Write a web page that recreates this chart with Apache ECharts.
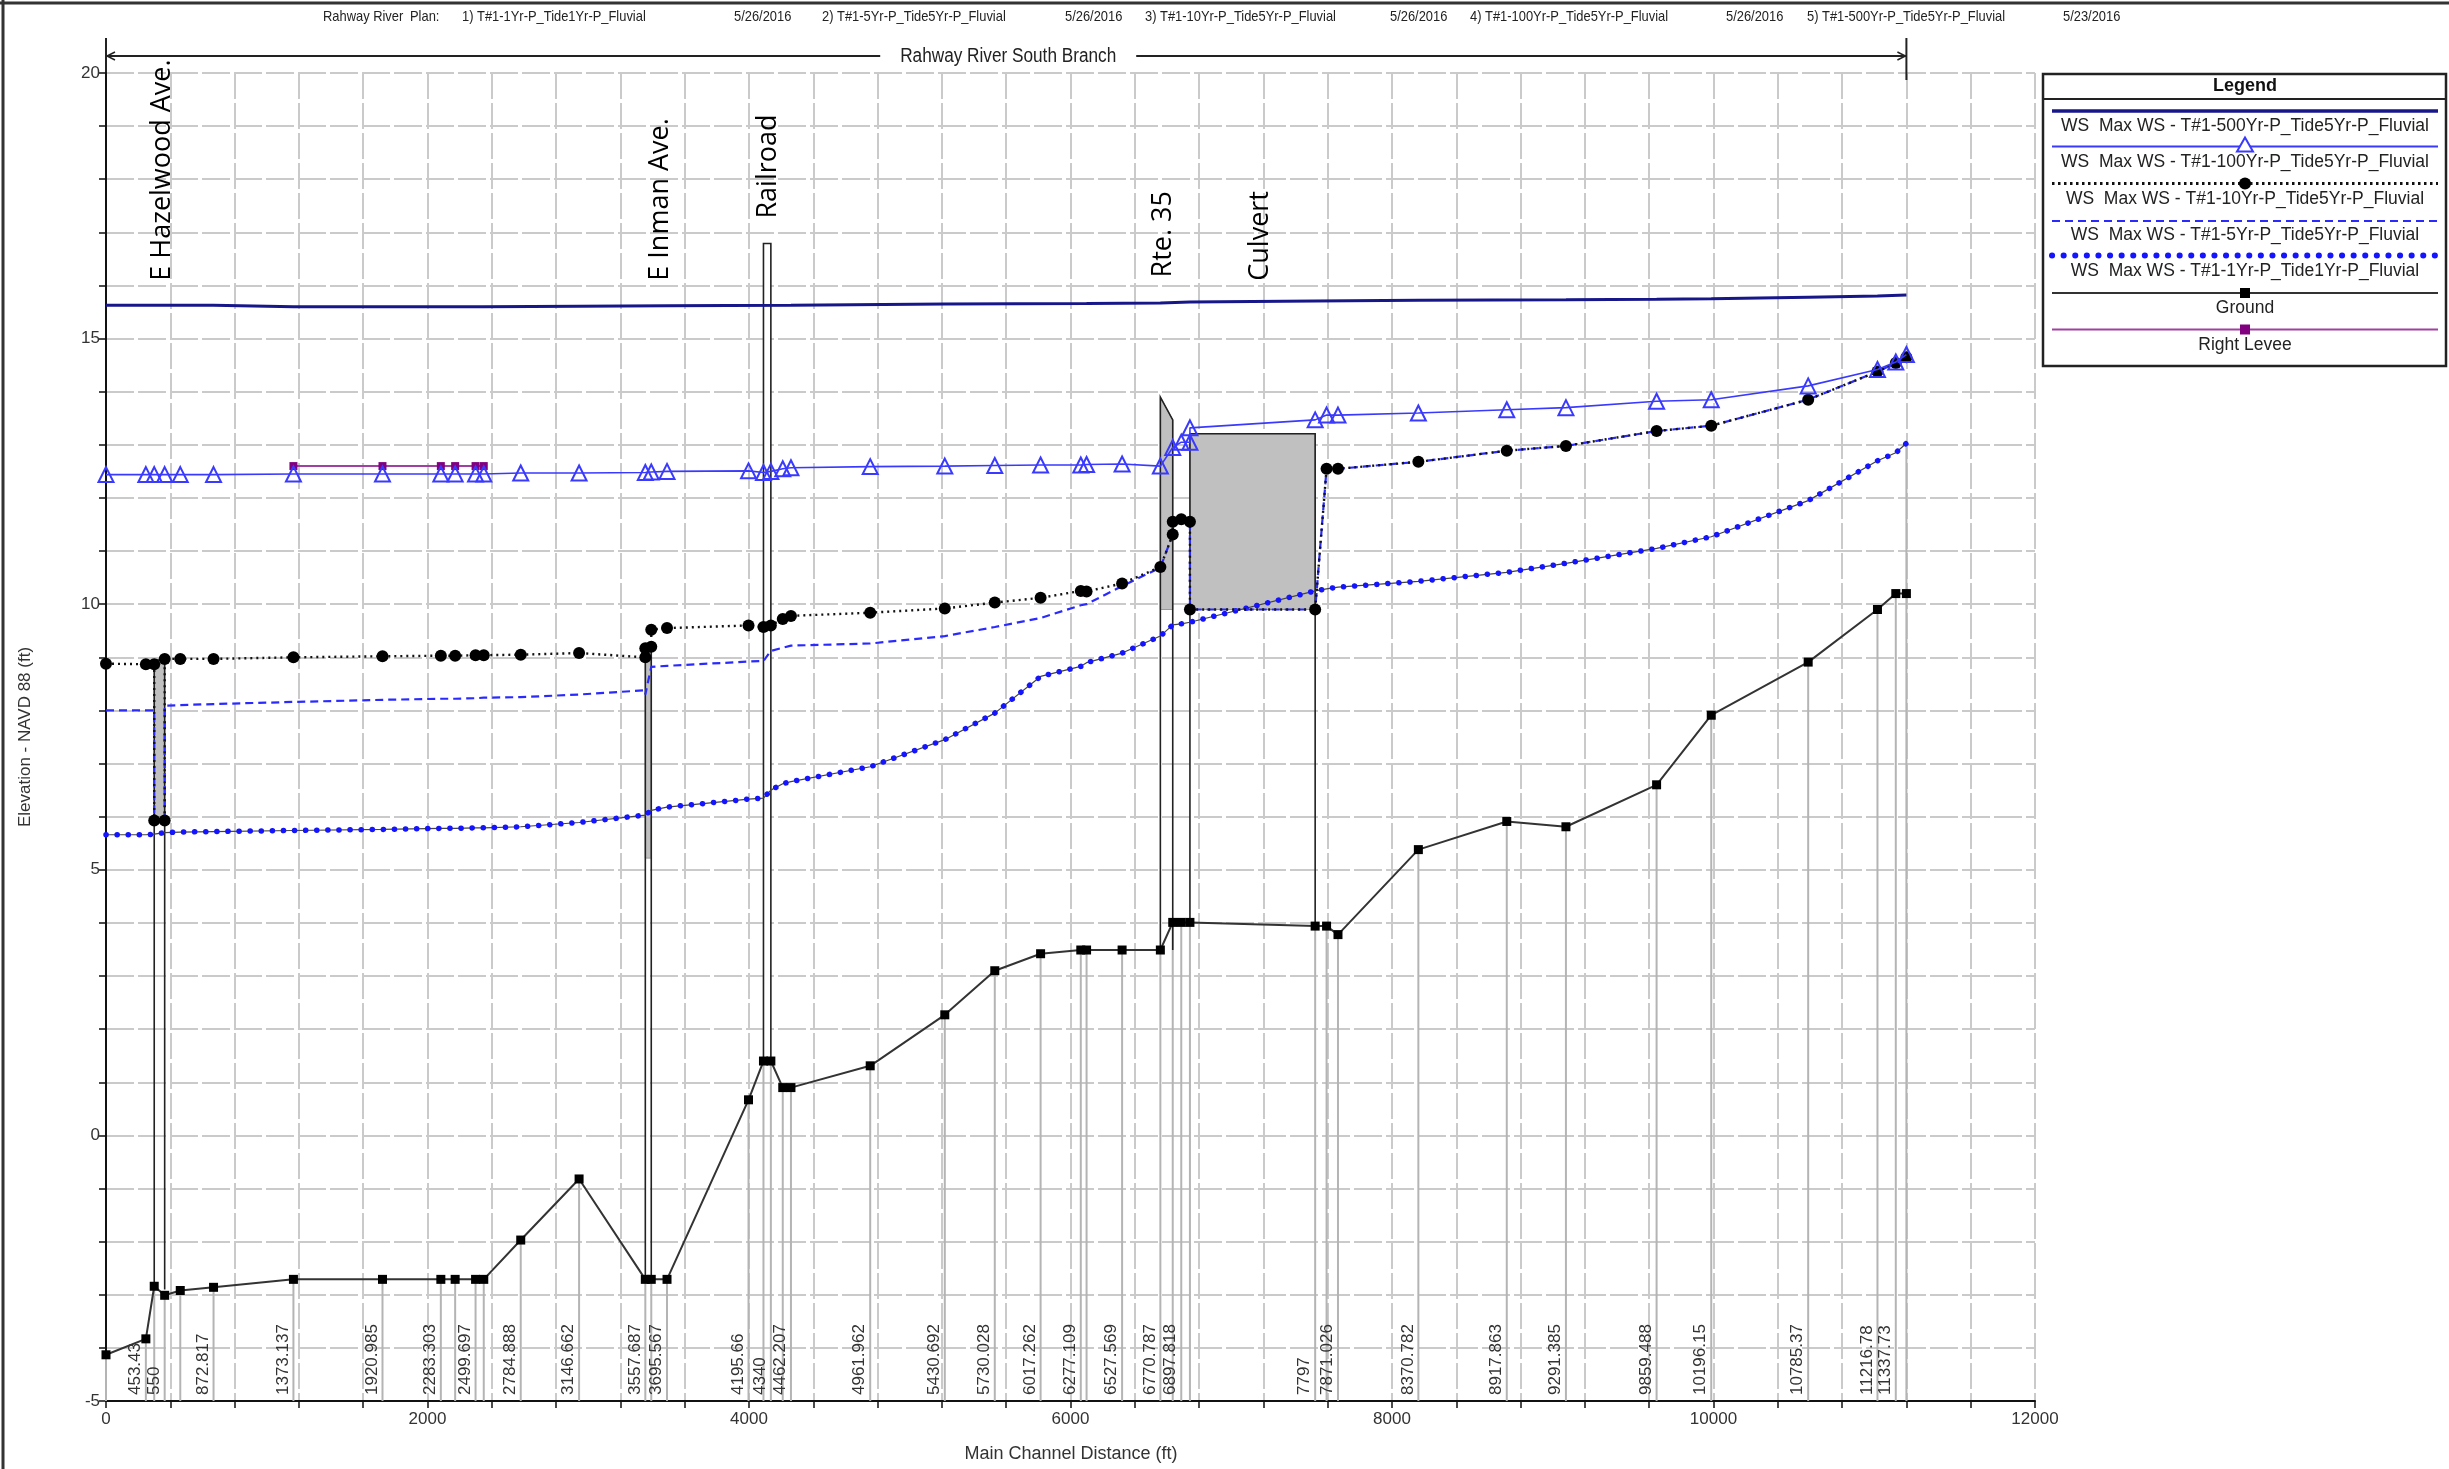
<!DOCTYPE html>
<html><head><meta charset="utf-8">
<script src="https://cdn.jsdelivr.net/npm/echarts@6/dist/echarts.min.js"></script>
<style>html,body{margin:0;padding:0;background:#fff}#c{width:2449px;height:1469px}</style>
</head><body><div id="c"></div>
<script>
// ---------------- DATA ----------------
const xsDist = [0, 248, 300, 365, 462, 669, 1166, 1720, 2083, 2172, 2299, 2350, 2580, 2943, 3355, 3392, 3490, 3997, 4090, 4136, 4210, 4261, 4754, 5218, 5529, 5814, 6064, 6100, 6321, 6559, 6636, 6689, 6743, 7522, 7593, 7664, 8164, 8714, 9082, 9646, 9986, 10589, 11020, 11134, 11200];
const xsGround = [-4.13, -3.83, -2.84, -3.01, -2.92, -2.86, -2.71, -2.71, -2.71, -2.71, -2.71, -2.71, -1.97, -0.82, -2.71, -2.71, -2.71, 0.67, 1.40, 1.40, 0.90, 0.90, 1.31, 2.27, 3.10, 3.42, 3.49, 3.49, 3.49, 3.49, 4.01, 4.01, 4.01, 3.94, 3.94, 3.78, 5.38, 5.91, 5.81, 6.60, 7.91, 8.91, 9.90, 10.20, 10.20];
const xsLabel = ['', '453.43', '', '550', '', '872.817', '1373.137', '1920.985', '2283.303', '', '2499.697', '', '2784.888', '3146.662', '3557.687', '', '3695.567', '4195.66', '', '4340', '', '4462.207', '4961.962', '5430.692', '5730.028', '6017.262', '6277.109', '', '6527.569', '6770.787', '', '6897.818', '', '7797', '', '7871.026', '8370.782', '8917.863', '9291.385', '9859.488', '10196.15', '10785.37', '11216.78', '11337.73', ''];

const ws500 = [[0,15.63],[669,15.63],[1166,15.6],[2350,15.6],[2943,15.61],[3490,15.62],[4261,15.63],[5218,15.65],[6100,15.66],[6559,15.67],[6743,15.69],[7522,15.71],[8164,15.72],[9082,15.73],[9646,15.74],[9986,15.75],[10589,15.78],[11020,15.8],[11200,15.82]];
const ws100 = [[0,12.44],[248,12.44],[300,12.44],[365,12.44],[462,12.44],[669,12.44],[1166,12.45],[1720,12.45],[2083,12.45],[2172,12.45],[2299,12.45],[2350,12.45],[2580,12.47],[2943,12.47],[3355,12.48],[3392,12.49],[3490,12.5],[3997,12.51],[4090,12.48],[4136,12.5],[4210,12.55],[4261,12.57],[4754,12.59],[5218,12.6],[5529,12.61],[5814,12.62],[6064,12.62],[6100,12.63],[6321,12.64],[6559,12.6],[6636,12.95],[6689,13.05],[6743,13.05],[6743,13.32],[7522,13.47],[7593,13.56],[7664,13.56],[8164,13.6],[8714,13.66],[9082,13.7],[9646,13.82],[9986,13.85],[10589,14.11],[11020,14.42],[11134,14.56],[11200,14.7]];
const ws10 = [[0,8.88],[248,8.87],[300,8.87],[300,5.93],[365,5.93],[365,8.97],[462,8.97],[669,8.97],[1166,9.0],[1720,9.02],[2083,9.03],[2172,9.03],[2299,9.04],[2350,9.04],[2580,9.05],[2943,9.08],[3355,9.0],[3355,9.17],[3392,9.2],[3392,9.52],[3490,9.55],[3997,9.6],[4090,9.57],[4136,9.6],[4210,9.72],[4261,9.78],[4754,9.84],[5218,9.92],[5529,10.03],[5814,10.12],[6064,10.25],[6100,10.24],[6321,10.39],[6559,10.7],[6636,11.31],[6636,11.55],[6689,11.6],[6743,11.55],[6743,9.9],[7522,9.9],[7593,12.55],[7664,12.55],[8164,12.68],[8714,12.89],[9082,12.98],[9646,13.26],[9986,13.36],[10589,13.85],[11020,14.38],[11134,14.54],[11200,14.65]];
const ws5 = [[0,8.0],[248,8.0],[300,8.0],[300,5.93],[365,5.93],[365,8.09],[462,8.1],[669,8.12],[1166,8.16],[1720,8.2],[2083,8.22],[2172,8.22],[2299,8.23],[2350,8.24],[2580,8.25],[2943,8.3],[3355,8.38],[3355,8.3],[3392,8.82],[3490,8.84],[3997,8.92],[4090,8.93],[4136,9.12],[4210,9.18],[4261,9.22],[4754,9.26],[5218,9.4],[5529,9.57],[5814,9.74],[6064,9.98],[6100,10.0],[6321,10.34],[6559,10.69],[6636,11.31],[6636,11.55],[6689,11.6],[6743,11.55],[6743,9.9],[7522,9.9],[7593,12.55],[7664,12.55],[8164,12.68],[8714,12.89],[9082,12.98],[9646,13.26],[9986,13.36],[10589,13.85],[11020,14.38],[11134,14.54],[11200,14.65]];
const ws1 = [[0,5.66],[248,5.66],[300,5.67],[365,5.70],[462,5.71],[669,5.72],[1166,5.74],[1720,5.76],[2083,5.78],[2172,5.78],[2299,5.79],[2350,5.79],[2580,5.81],[2943,5.89],[3355,6.03],[3392,6.12],[3490,6.18],[3997,6.33],[4090,6.35],[4136,6.5],[4210,6.62],[4261,6.66],[4754,6.94],[5218,7.45],[5529,7.95],[5814,8.64],[6064,8.83],[6100,8.9],[6321,9.08],[6559,9.4],[6636,9.61],[6689,9.63],[6743,9.66],[7522,10.25],[7593,10.29],[7664,10.32],[8164,10.43],[8714,10.6],[9082,10.77],[9646,11.05],[9986,11.27],[10589,11.95],[11020,12.7],[11134,12.85],[11200,13.03]];
const rightLevee = [[1166,12.6],[1720,12.6],[2083,12.6],[2172,12.6],[2299,12.6],[2350,12.6]];

const deckX1 = [300, 3355, 4090, 6559, 6743];
const deckX2 = [365, 3392, 4136, 6636, 7522];
const deckBottom = [-2.9, -2.71, 1.40, 3.49, 3.94];
const deckLow = [5.93, 5.22, 16.79, 9.9, 9.9];
const deckTopL = [8.95, 9.15, 16.79, 13.9, 13.21];
const deckTopR = [8.95, 9.15, 16.79, 13.47, 13.21];
const bridgeNames = ['E Hazelwood Ave.', 'E Inman Ave.', 'Railroad', 'Rte. 35', 'Culvert'];
const bridgeLabelX = [350, 3449, 4119, 6577, 7180];
const bridgeLabelY = [16.09, 16.09, 17.26, 16.15, 16.09];

const xTickLabels = ['0', '2000', '4000', '6000', '8000', '10000', '12000'];
const yTickLabels = ['-5', '0', '5', '10', '15', '20'];

const headerParts = ['Rahway River', 'Plan:', '1) T#1-1Yr-P_Tide1Yr-P_Fluvial', '5/26/2016', '2) T#1-5Yr-P_Tide5Yr-P_Fluvial', '5/26/2016', '3) T#1-10Yr-P_Tide5Yr-P_Fluvial', '5/26/2016', '4) T#1-100Yr-P_Tide5Yr-P_Fluvial', '5/26/2016', '5) T#1-500Yr-P_Tide5Yr-P_Fluvial', '5/23/2016'];
const reachName = 'Rahway River South Branch';
const legendNames = ['WS  Max WS - T#1-500Yr-P_Tide5Yr-P_Fluvial', 'WS  Max WS - T#1-100Yr-P_Tide5Yr-P_Fluvial', 'WS  Max WS - T#1-10Yr-P_Tide5Yr-P_Fluvial', 'WS  Max WS - T#1-5Yr-P_Tide5Yr-P_Fluvial', 'WS  Max WS - T#1-1Yr-P_Tide1Yr-P_Fluvial', 'Ground', 'Right Levee'];

// ---------------- STYLE / LAYOUT ----------------
const headerX = [323, 410, 462, 734, 822, 1065, 1145, 1390, 1470, 1726, 1807, 2063];
const FONT = '"Liberation Sans", Arial, sans-serif';
const C500 = '#17178a', C100 = '#3a3aff', C10 = '#111', C5 = '#2a2aff', C1 = '#1414ff';

const chart = echarts.init(document.getElementById('c'));

const option = {
  animation: false,
  backgroundColor: '#fff',
  grid: { left: 106, right: 414, top: 73, bottom: 68, containLabel: false },
  xAxis: {
    type: 'value', min: 0, max: 12000, interval: 400,
    axisLine: { show: true, onZero: false, lineStyle: { color: '#111', width: 2 } },
    axisTick: { show: true, length: 7, lineStyle: { color: '#111', width: 1.5 } },
    axisLabel: { formatter: v => xTickLabels.includes(String(v)) ? String(v) : '', color: '#333', fontSize: 17, fontFamily: FONT, margin: 10 },
    splitLine: { show: true, lineStyle: { color: '#cacaca', width: 2, type: [26, 4] } }
  },
  yAxis: {
    type: 'value', min: -5, max: 20, interval: 1,
    axisLine: { show: true, onZero: false, lineStyle: { color: '#111', width: 2 } },
    axisTick: { show: true, length: 7, lineStyle: { color: '#111', width: 1.5 } },
    axisLabel: { formatter: v => yTickLabels.includes(String(v)) ? String(v) : '', color: '#333', fontSize: 17, fontFamily: FONT, margin: 6 },
    splitLine: { show: true, lineStyle: { color: '#cacaca', width: 2, type: [28, 4] } }
  },
  series: [
    { // cross-section marker lines
      type: 'custom', name: 'xs', z: 1, silent: true,
      data: xsDist.map((x, i) => [x, xsGround[i]]),
      encode: { x: 0, y: 1 },
      renderItem: (params, api) => {
        const i = params.dataIndex;
        const x = api.value(0);
        const top = i === xsDist.length - 1 ? ws1[ws1.length - 1][1] : api.value(1);
        const p0 = api.coord([x, -5]), p1 = api.coord([x, top]);
        return { type: 'line', shape: { x1: p0[0], y1: p0[1], x2: p1[0], y2: p1[1] }, style: { stroke: '#b4b4b4', lineWidth: 2 } };
      }
    },
    { // bridges / culvert
      type: 'custom', name: 'bridges', z: 2, silent: true,
      data: deckX1.map((x, i) => [x, deckX2[i], deckBottom[i], deckLow[i], deckTopL[i], deckTopR[i]]),
      encode: { x: [0, 1], y: [2, 3, 4, 5] },
      renderItem: (params, api) => {
        const x1 = api.value(0), x2 = api.value(1), b = api.value(2), lo = api.value(3), tl = api.value(4), tr = api.value(5);
        const A = api.coord([x1, b]), B = api.coord([x1, tl]), C = api.coord([x2, tr]), D = api.coord([x2, b]);
        const children = [];
        if (lo >= Math.min(tl, tr)) {
          children.push({ type: 'polygon', shape: { points: [A, B, C, D] }, style: { fill: '#fff' } });
        } else {
          children.push({ type: 'polygon', shape: { points: [api.coord([x1, lo]), B, C, api.coord([x2, lo])] }, style: { fill: '#c0c0c0', stroke: '#999', lineWidth: 1 } });
        }
        children.push({ type: 'polyline', shape: { points: [A, B, C, D] }, style: { fill: null, stroke: '#222', lineWidth: 1.6 } });
        return { type: 'group', children };
      }
    },
    {
      type: 'line', name: 'Ground', z: 3, data: xsDist.map((x, i) => [x, xsGround[i]]),
      symbol: 'rect', symbolSize: 9, showAllSymbol: true,
      itemStyle: { color: '#000' }, lineStyle: { color: '#333', width: 2 }
    },
    {
      type: 'line', name: 'Right Levee', z: 4, data: rightLevee,
      symbol: 'rect', symbolSize: 8, showAllSymbol: true,
      itemStyle: { color: '#800080' }, lineStyle: { color: '#a040a0', width: 2 }
    },
    {
      type: 'line', name: '1yr-under', z: 4, data: ws1, symbol: 'none',
      lineStyle: { color: '#444', width: 1.2 }
    },
    {
      type: 'line', name: legendNames[4], z: 5, data: ws1, symbol: 'none',
      lineStyle: { color: C1, width: 5.5, type: [0.1, 11], cap: 'round' }
    },
    {
      type: 'line', name: legendNames[3], z: 5, data: ws5, symbol: 'none',
      lineStyle: { color: C5, width: 2.2, type: [8, 5] }
    },
    {
      type: 'line', name: legendNames[2], z: 6, data: ws10,
      symbol: 'circle', symbolSize: 12, showAllSymbol: true,
      itemStyle: { color: '#000' }, lineStyle: { color: C10, width: 2.4, type: [2, 4] }
    },
    {
      type: 'line', name: legendNames[1], z: 7, data: ws100,
      symbol: 'triangle', symbolSize: 15, showAllSymbol: true,
      itemStyle: { color: 'rgba(255,255,255,0)', borderColor: C100, borderWidth: 2 },
      lineStyle: { color: C100, width: 1.6 }
    },
    {
      type: 'line', name: legendNames[0], z: 7, data: ws500, symbol: 'none',
      lineStyle: { color: C500, width: 3 }
    },
    { // bridge names
      type: 'custom', name: 'bridgeNames', z: 8, silent: true,
      data: bridgeLabelX.map((x, i) => [x, bridgeLabelY[i]]),
      encode: { x: 0, y: 1 },
      renderItem: (params, api) => {
        const p = api.coord([api.value(0), api.value(1)]);
        return { type: 'text', x: p[0], y: p[1], rotation: Math.PI / 2,
          style: { text: bridgeNames[params.dataIndex], fill: '#000', font: '27px "Open Sans", "Noto Sans", sans-serif', align: 'left', verticalAlign: 'middle' } };
      }
    },
    { // river station labels
      type: 'custom', name: 'xsLabels', z: 8, silent: true,
      data: xsDist.map((x, i) => [x, xsGround[i]]),
      encode: { x: 0, y: 1 },
      renderItem: (params, api) => {
        const t = xsLabel[params.dataIndex];
        if (!t) return { type: 'group', children: [] };
        const p = api.coord([api.value(0), -5]);
        return { type: 'text', x: p[0] - 2, y: p[1] - 6, rotation: Math.PI / 2,
          style: { text: t, fill: '#333', font: '17px ' + FONT, align: 'left', verticalAlign: 'bottom' } };
      }
    }
  ]
};
chart.setOption(option);

// ---------------- ANNOTATION GRAPHICS ----------------
const g = [];
// outer frame
g.push({ type: 'line', shape: { x1: 0, y1: 3, x2: 2449, y2: 3 }, style: { stroke: '#333', lineWidth: 3 } });
g.push({ type: 'line', shape: { x1: 3, y1: 0, x2: 3, y2: 1469 }, style: { stroke: '#333', lineWidth: 3 } });
// header
headerParts.forEach((t, i) => {
  g.push({ type: 'text', x: headerX[i], y: 17, scaleX: 0.86, style: { text: t, fill: '#222', font: '15px ' + FONT, verticalAlign: 'middle', align: 'left' } });
});
// reach arrow
const rx0 = chart.convertToPixel({ xAxisIndex: 0 }, xsDist[0]);
const rx1 = chart.convertToPixel({ xAxisIndex: 0 }, xsDist[xsDist.length - 1]);
const ry = 56;
g.push({ type: 'line', shape: { x1: rx0, y1: ry, x2: rx1, y2: ry }, style: { stroke: '#222', lineWidth: 2 } });
g.push({ type: 'polyline', shape: { points: [[rx0 + 9, ry - 4], [rx0 + 1, ry], [rx0 + 9, ry + 4]] }, style: { stroke: '#222', lineWidth: 1.5, fill: null } });
g.push({ type: 'polyline', shape: { points: [[rx1 - 9, ry - 4], [rx1 - 1, ry], [rx1 - 9, ry + 4]] }, style: { stroke: '#222', lineWidth: 1.5, fill: null } });
g.push({ type: 'line', shape: { x1: rx0, y1: 38, x2: rx0, y2: 73 }, style: { stroke: '#222', lineWidth: 2 } });
g.push({ type: 'line', shape: { x1: rx1, y1: 38, x2: rx1, y2: 80 }, style: { stroke: '#222', lineWidth: 2 } });
const rmid = (rx0 + rx1) / 2 + 2;
g.push({ type: 'rect', shape: { x: rmid - 128, y: ry - 12, width: 256, height: 24 }, style: { fill: '#fff' } });
g.push({ type: 'text', x: rmid, y: ry, scaleX: 0.86, style: { text: reachName, fill: '#222', font: '20px ' + FONT, align: 'center', verticalAlign: 'middle' } });
// axis titles
g.push({ type: 'text', x: 25, y: 737, rotation: Math.PI / 2, style: { text: 'Elevation - NAVD 88 (ft)', fill: '#333', font: '17px ' + FONT, align: 'center', verticalAlign: 'middle' } });
g.push({ type: 'text', x: 1071, y: 1454, style: { text: 'Main Channel Distance (ft)', fill: '#333', font: '18px ' + FONT, align: 'center', verticalAlign: 'middle' } });

// legend box
const LX0 = 2043, LX1 = 2446, LY0 = 74, LY1 = 366, LCX = 2245;
g.push({ type: 'rect', shape: { x: LX0, y: LY0, width: LX1 - LX0, height: LY1 - LY0 }, style: { fill: '#fff', stroke: '#222', lineWidth: 2.5 } });
g.push({ type: 'line', shape: { x1: LX0, y1: 99, x2: LX1, y2: 99 }, style: { stroke: '#222', lineWidth: 2 } });
g.push({ type: 'text', x: LCX, y: 86, style: { text: 'Legend', fill: '#111', font: 'bold 18px ' + FONT, align: 'center', verticalAlign: 'middle' } });
const legLineY = [111, 146.5, 183.5, 221, 255.5, 293, 329.5];
const legTextY = [126, 162, 199, 235, 271, 308, 345];
const legStyles = [
  { stroke: C500, lineWidth: 3.5 },
  { stroke: C100, lineWidth: 2 },
  { stroke: '#111', lineWidth: 3, lineDash: [2.5, 3.5] },
  { stroke: C5, lineWidth: 2.2, lineDash: [8, 5] },
  { stroke: C1, lineWidth: 6, lineDash: [0.1, 11.5], lineCap: 'round' },
  { stroke: '#333', lineWidth: 2 },
  { stroke: '#a040a0', lineWidth: 2 }
];
legendNames.forEach((name, i) => {
  g.push({ type: 'line', shape: { x1: 2052, y1: legLineY[i], x2: 2438, y2: legLineY[i] }, style: legStyles[i] });
  g.push({ type: 'text', x: LCX, y: legTextY[i], style: { text: name, fill: '#222', font: '17.5px ' + FONT, align: 'center', verticalAlign: 'middle' } });
});
g.push({ type: 'polygon', shape: { points: [[LCX, legLineY[1] - 9], [LCX - 8, legLineY[1] + 5], [LCX + 8, legLineY[1] + 5]] }, style: { fill: '#fff', stroke: C100, lineWidth: 2 } });
g.push({ type: 'circle', shape: { cx: LCX, cy: legLineY[2], r: 6 }, style: { fill: '#000' } });
g.push({ type: 'rect', shape: { x: LCX - 5, y: legLineY[5] - 5, width: 10, height: 10 }, style: { fill: '#000' } });
g.push({ type: 'rect', shape: { x: LCX - 5, y: legLineY[6] - 5, width: 10, height: 10 }, style: { fill: '#800080' } });

chart.setOption({ graphic: { elements: g } });
</script>
</body></html>
